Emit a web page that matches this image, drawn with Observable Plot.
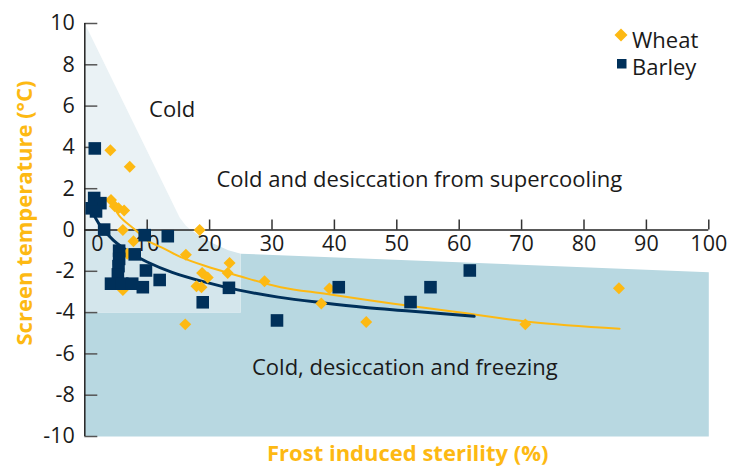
<!DOCTYPE html>
<html><head><meta charset="utf-8">
<script src="https://cdn.jsdelivr.net/npm/d3@7"></script>
<script src="https://cdn.jsdelivr.net/npm/@observablehq/plot@0.6"></script>
<style>
body{margin:0;background:#fff;}
#wrap{position:relative;width:739px;height:466px;}
</style></head><body><div id="wrap"></div>
<script>
// ---- data ----
const wheatX = [4.1, 7.2, 4.2, 4.8, 5.4, 6.3, 6.1, 7.8, 6.8, 6.1, 16.2, 18.4, 18.8, 19.7, 17.9, 18.7, 23.2, 22.9, 28.8, 16.1, 39.2, 37.9, 45.1, 70.6, 85.6];
const wheatY = [3.86, 3.06, 1.45, 1.15, 1.05, 0.95, 0.0, -0.55, -1.15, -2.9, -1.2, 0.0, -2.08, -2.3, -2.72, -2.77, -1.6, -2.08, -2.48, -4.57, -2.83, -3.56, -4.46, -4.57, -2.82];
const barleyX = [1.6, 1.5, 2.5, 1.1, 1.8, 3.1, 9.6, 13.3, 5.5, 5.5, 5.4, 5.3, 8.0, 9.8, 12.0, 4.2, 6.0, 7.6, 9.3, 18.9, 23.1, 30.8, 40.7, 52.2, 55.4, 61.7];
const barleyY = [3.95, 1.55, 1.3, 1.05, 0.9, 0.02, -0.25, -0.3, -1.0, -1.4, -1.75, -2.15, -1.18, -1.96, -2.42, -2.6, -2.6, -2.6, -2.77, -3.5, -2.8, -4.38, -2.77, -3.49, -2.77, -1.96];
const wheatFitX = [4.2, 5.5, 8.1, 10, 12.7, 15.3, 19.1, 24.4, 31.4, 38.8, 49.5, 60.2, 71.4, 85.7];
const wheatFitY = [1.45, 0.7, 0.0, -0.5, -0.9, -1.3, -1.72, -2.2, -2.77, -3.1, -3.57, -4.0, -4.45, -4.78];
const barleyFitX = [1.0, 2.5, 4.6, 7.3, 10, 14, 19, 24.5, 31, 38, 45, 52, 62.4];
const barleyFitY = [1.0, 0.2, -0.5, -1.1, -1.55, -2.05, -2.5, -2.9, -3.25, -3.52, -3.75, -3.92, -4.18];
// shaded zones (outline vertices in data units)
const coldZoneX = [0, 15.2, 16.2, 17, 0];
const coldZoneY = [10, 0.6, 0.2, 0, 0];
const mixZoneX = [0, 17, 18.5, 20.7, 23, 25, 25, 0];
const mixZoneY = [0, 0, -0.3, -0.67, -0.98, -1.15, -4, -4];
const freezeZoneX = [25, 100, 100, 0, 0, 25];
const freezeZoneY = [-1.15, -2.04, -10, -10, -4, -4];
const zoneLabels = ["Cold", "Cold and desiccation from supercooling", "Cold, desiccation and freezing"];
const zoneLabelX = [14, 53.6, 51.3];
const zoneLabelY = [5.8, 2.4, -6.7];
const xTicks = [0, 10, 20, 30, 40, 50, 60, 70, 80, 90, 100];
const yTicks = [10, 8, 6, 4, 2, 0, -2, -4, -6, -8, -10];
const seriesNames = ["Wheat", "Barley"];
const xTitle = "Frost induced sterility (%)";
const yTitle = "Screen temperature (°C)";

// ---- build ----
const zip = (xs, ys) => xs.map((x, i) => ({x, y: ys[i]}));
const wheat = zip(wheatX, wheatY);
const barley = zip(barleyX, barleyY);
const wheatFit = zip(wheatFitX, wheatFitY);
const barleyFit = zip(barleyFitX, barleyFitY);
const coldZone = zip(coldZoneX, coldZoneY);
const mixZone = zip(mixZoneX, mixZoneY);
const freezeZone = zip(freezeZoneX, freezeZoneY);
const labels = zoneLabels.map((t, i) => ({t, x: zoneLabelX[i], y: zoneLabelY[i]}));

const ORANGE = "#FDB913", NAVY = "#00305A";
const FONT = "'Open Sans', sans-serif";
const W = 739, H = 466, ML = 84.3, MR = 30.7, MT = 23, MB = 30;
const pxX = (W - ML - MR) / 100, pxY = (H - MT - MB) / 20;

const chart = Plot.plot({
  width: W, height: H,
  marginLeft: ML, marginRight: MR, marginTop: MT, marginBottom: MB,
  x: {domain: [0, 100], axis: null},
  y: {domain: [-10, 10], axis: null},
  style: {fontFamily: FONT, fontSize: "21.5px", background: "#fff", color: "#1a1a1a", overflow: "visible"},
  marks: [
    Plot.line(freezeZone, {x: "x", y: "y", fill: "#B8D8E1", stroke: "none"}),
    Plot.line(mixZone, {x: "x", y: "y", fill: "#D4E6EC", stroke: "none"}),
    Plot.line(coldZone, {x: "x", y: "y", fill: "#EAF2F5", stroke: "none"}),
    Plot.text(labels, {x: "x", y: "y", text: "t", fill: "#1a1a1a", fontSize: 22, letterSpacing: "0.2px"}),
    Plot.ruleY(yTicks, {y: d => d, x1: 0, x2: 13 / pxX, stroke: "#555", strokeWidth: 1.5}),
    Plot.ruleX(xTicks.filter(d => d > 0), {x: d => d, y1: 0, y2: 10 / pxY, stroke: "#333", strokeWidth: 1.5}),
    Plot.ruleX([0], {x: d => d, y1: -10, y2: 10, stroke: "#222", strokeWidth: 1.5}),
    Plot.ruleY([0], {y: d => d, x1: 0, x2: 100, stroke: "#222", strokeWidth: 1.5}),
    Plot.text(yTicks, {x: 0, y: d => d, text: d => String(d), textAnchor: "end", dx: -10, fill: "#1a1a1a"}),
    Plot.text(xTicks.filter(d => d === 0), {x: d => d, y: 0, text: d => String(d), dx: 12.5, dy: 14, fill: "#1a1a1a"}),
    Plot.text(xTicks.filter(d => d > 0), {x: d => d, y: 0, text: d => String(d), dy: 14, fill: "#1a1a1a"}),
    Plot.line(wheatFit, {x: "x", y: "y", stroke: ORANGE, strokeWidth: 2, curve: "catmull-rom"}),
    Plot.line(barleyFit, {x: "x", y: "y", stroke: NAVY, strokeWidth: 3, curve: "catmull-rom"}),
    Plot.dot(wheat, {x: "x", y: "y", symbol: "diamond2", r: 5.4, fill: ORANGE, stroke: "none"}),
    Plot.dot(barley, {x: "x", y: "y", symbol: "square", r: 7.1, fill: NAVY, stroke: "none"}),
    Plot.text([xTitle], {frameAnchor: "bottom", textAnchor: "middle", lineAnchor: "middle", dx: 11, dy: 17, fill: ORANGE, fontWeight: "bold", fontSize: 22}),
    Plot.text([yTitle], {frameAnchor: "left", textAnchor: "middle", lineAnchor: "middle", rotate: -90, dx: -60, dy: -17, fill: ORANGE, fontWeight: "bold", fontSize: 22})
  ]
});
document.getElementById("wrap").appendChild(chart);

// legend
const svg = d3.select(chart);
const lg = svg.append("g").attr("font-family", FONT).attr("font-size", 22).attr("fill", "#1a1a1a").attr("text-anchor", "start");
lg.append("path").attr("d", "M621,28.5L627.5,35L621,41.5L614.5,35Z").attr("fill", ORANGE);
lg.append("text").attr("x", 632).attr("y", 47.5).text(seriesNames[0]);
lg.append("rect").attr("x", 617).attr("y", 59).attr("width", 9.5).attr("height", 9.5).attr("fill", NAVY);
lg.append("text").attr("x", 632).attr("y", 75).text(seriesNames[1]);
</script></body></html>
